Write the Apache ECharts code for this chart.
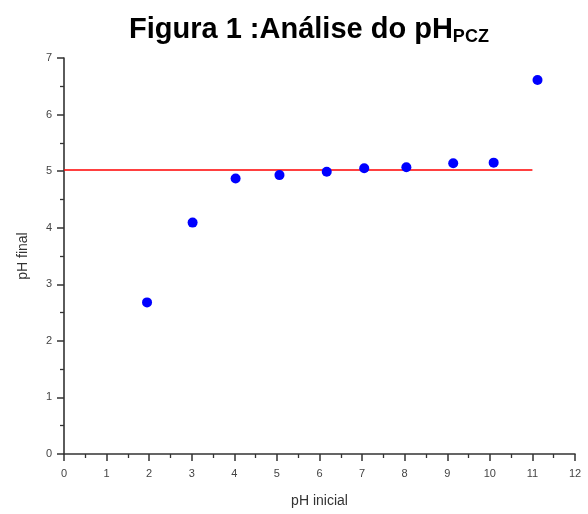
<!DOCTYPE html>
<html>
<head>
<meta charset="utf-8">
<script src="https://cdn.jsdelivr.net/npm/echarts@6/dist/echarts.min.js"></script>
<style>
  html, body { margin: 0; padding: 0; background: #fff; }
  #chart { width: 588px; height: 514px; }
</style>
</head>
<body>
<div id="chart"></div>
<script>
// pH inicial / pH final
var phInicial = [1.95, 3.02, 4.03, 5.06, 6.17, 7.05, 8.04, 9.14, 10.09, 11.12];
var phFinal = [2.68, 4.09, 4.87, 4.93, 4.99, 5.05, 5.07, 5.14, 5.15, 6.61];
// linha do pHpcz
var linhaX = [0, 11];
var linhaY = [5.02, 5.02];

var pontos = phInicial.map(function (x, i) { return [x, phFinal[i]]; });
var linha = linhaX.map(function (x, i) { return [x, linhaY[i]]; });

var eixo = {
  axisLine: { show: true, onZero: false, lineStyle: { color: '#333', width: 1.6 } },
  axisTick: { show: true, inside: false, length: 7, lineStyle: { color: '#333', width: 1.5 } },
  minorTick: { show: true, splitNumber: 2, length: 4, lineStyle: { color: '#333', width: 1.3 } },
  splitLine: { show: false },
  axisLabel: { color: '#444', fontFamily: 'Arial, Liberation Sans', fontSize: 11 },
  nameTextStyle: { color: '#333', fontFamily: 'Arial, Liberation Sans', fontSize: 14 }
};

var option = {
  backgroundColor: '#fff',
  animation: false,
  title: {
    text: '{a|Figura 1 :Análise do pH}{b|PCZ}',
    left: 124,
    top: 9,
    textStyle: {
      rich: {
        a: { fontFamily: 'Arial, Liberation Sans', fontSize: 29, fontWeight: 'bold', color: '#000' },
        b: { fontFamily: 'Arial, Liberation Sans', fontSize: 18, fontWeight: 'bold', color: '#000', verticalAlign: 'bottom', padding: [14, 0, 0, 0] }
      }
    }
  },
  grid: { left: 64, right: 13, top: 58, bottom: 60, containLabel: false },
  xAxis: Object.assign({}, eixo, {
    type: 'value',
    min: 0, max: 12, interval: 1,
    name: 'pH inicial',
    nameLocation: 'middle',
    nameGap: 40,
    axisLabel: Object.assign({}, eixo.axisLabel, { margin: 14 })
  }),
  yAxis: Object.assign({}, eixo, {
    type: 'value',
    min: 0, max: 7, interval: 1,
    name: 'pH final',
    nameLocation: 'middle',
    nameGap: 34,
    axisLabel: Object.assign({}, eixo.axisLabel, { margin: 12 })
  }),
  series: [
    {
      type: 'line',
      data: linha,
      symbol: 'none',
      lineStyle: { color: '#ff0000', width: 1.5 },
      z: 1
    },
    {
      type: 'scatter',
      data: pontos,
      symbol: 'circle',
      symbolSize: 10,
      itemStyle: { color: '#0000ff', opacity: 1 },
      z: 2
    }
  ]
};

var myChart = echarts.init(document.getElementById('chart'));
myChart.setOption(option);
</script>
</body>
</html>
